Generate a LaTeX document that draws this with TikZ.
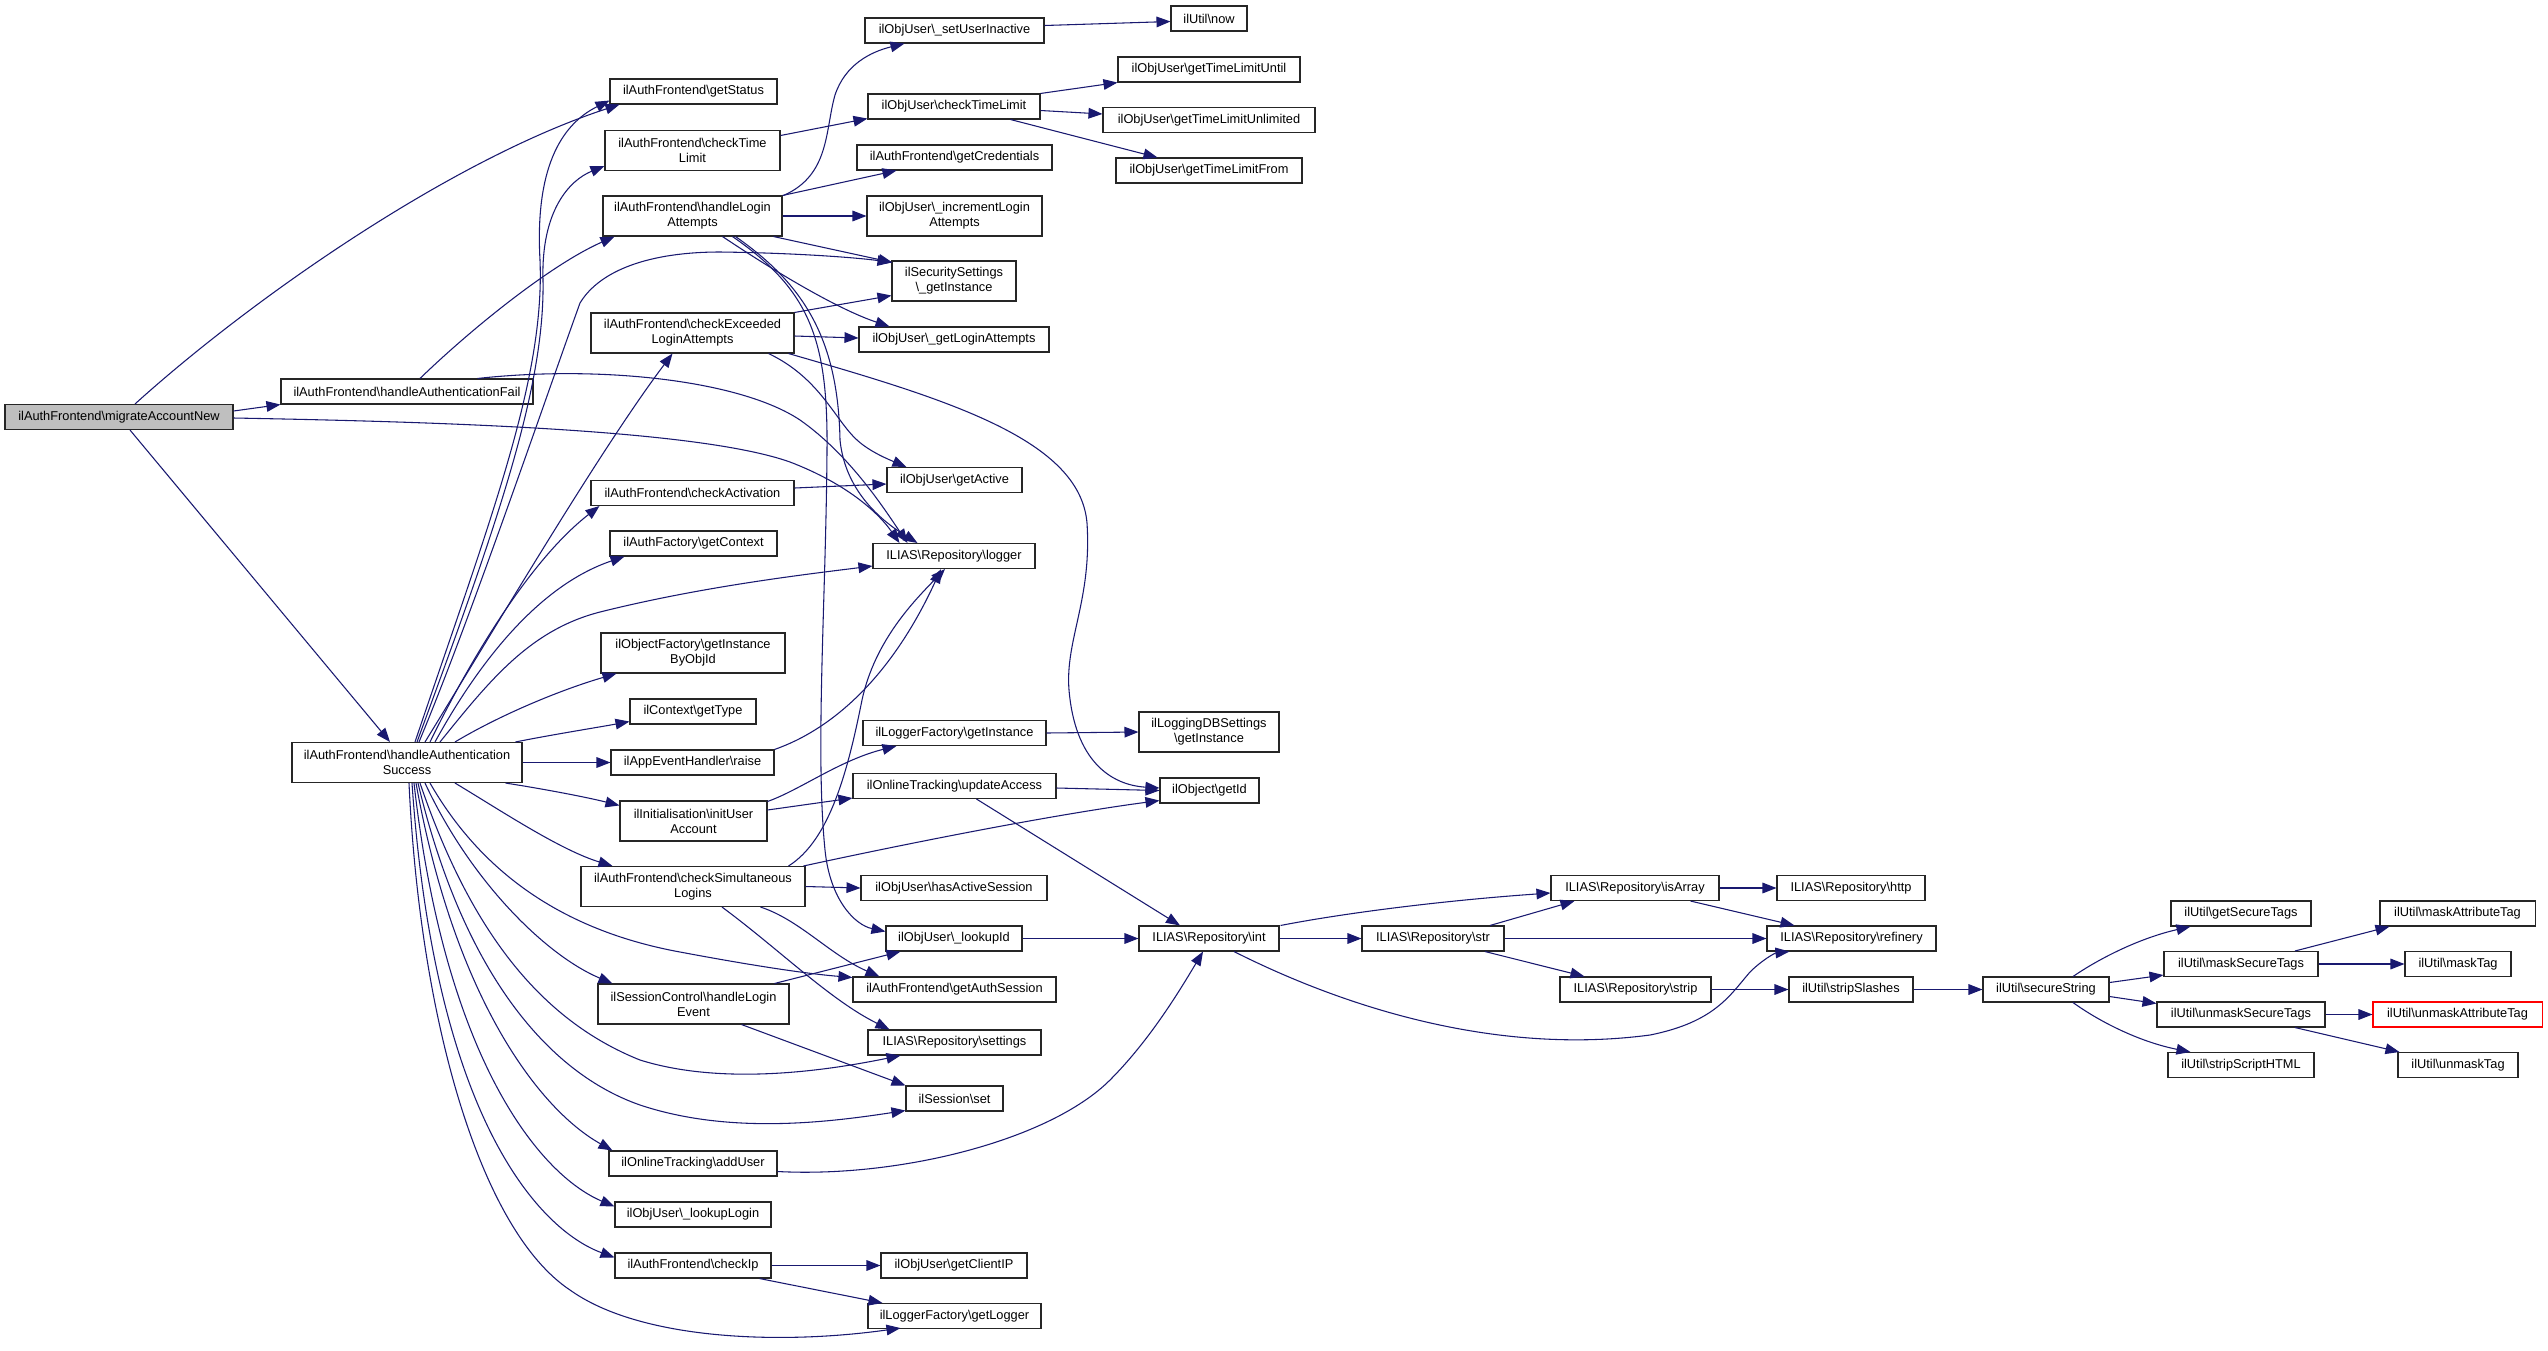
\documentclass[tikz,border=0pt]{standalone}
\usepackage{fontspec}
\setmainfont{Liberation Sans}
\usetikzlibrary{arrows.meta}
\definecolor{edgec}{HTML}{191970}
\definecolor{grayfill}{HTML}{BFBFBF}
\definecolor{boxc}{HTML}{262626}
\begin{document}
\begin{tikzpicture}[x=0.75pt,y=-0.75pt,
  fn/.style={draw=boxc, line width=0.8pt, inner sep=0pt, minimum height=18.75pt, align=center, font=\fontsize{9.6}{11.25}\selectfont},
  two/.style={minimum height=30pt},
  wd/.style={minimum width=#1*0.75pt},
  conn/.style={color=edgec, line width=0.8pt, -{Triangle[length=10.5pt,width=8pt]}}]
\fill[white] (0,0) rectangle (2548,1350);
\useasboundingbox (0,0) rectangle (2548,1350);
% column 0/1
\node[fn, wd=228, fill=grayfill] (mig) at (119,417) {ilAuthFrontend\textbackslash migrateAccountNew};
\node[fn, wd=252] (haf) at (407,391.5) {ilAuthFrontend\textbackslash handleAuthenticationFail};
\node[fn, two, wd=230] (has) at (407,762.5) {ilAuthFrontend\textbackslash handleAuthentication\\Success};
% column 2
\node[fn, wd=167] (gst) at (693.5,91.5) {ilAuthFrontend\textbackslash getStatus};
\node[fn, two, wd=175] (ctl) at (692.5,150.5) {ilAuthFrontend\textbackslash checkTime\\Limit};
\node[fn, two, wd=179] (hla) at (692.5,216) {ilAuthFrontend\textbackslash handleLogin\\Attempts};
\node[fn, two, wd=203] (cel) at (692.5,333) {ilAuthFrontend\textbackslash checkExceeded\\LoginAttempts};
\node[fn, wd=203] (cac) at (692.5,493) {ilAuthFrontend\textbackslash checkActivation};
\node[fn, wd=167] (gcx) at (693.5,543.5) {ilAuthFactory\textbackslash getContext};
\node[fn, two, wd=184] (gio) at (693,653) {ilObjectFactory\textbackslash getInstance\\ByObjId};
\node[fn, wd=126] (gty) at (693,711.5) {ilContext\textbackslash getType};
\node[fn, wd=163] (rai) at (692.5,762.5) {ilAppEventHandler\textbackslash raise};
\node[fn, two, wd=147] (iua) at (693.5,821) {ilInitialisation\textbackslash initUser\\Account};
\node[fn, two, wd=224] (csl) at (693,886.5) {ilAuthFrontend\textbackslash checkSimultaneous\\Logins};
\node[fn, two, wd=191] (hle) at (693.5,1004) {ilSessionControl\textbackslash handleLogin\\Event};
\node[fn, wd=168] (adu) at (693,1163.5) {ilOnlineTracking\textbackslash addUser};
\node[fn, wd=156] (llg) at (693,1214.5) {ilObjUser\textbackslash \_lookupLogin};
\node[fn, wd=156] (cip) at (693,1265.5) {ilAuthFrontend\textbackslash checkIp};
% column 3
\node[fn, wd=179] (sui) at (954.5,30.5) {ilObjUser\textbackslash \_setUserInactive};
\node[fn, wd=172] (octl) at (954,106.5) {ilObjUser\textbackslash checkTimeLimit};
\node[fn, wd=195] (gcr) at (954.5,157.5) {ilAuthFrontend\textbackslash getCredentials};
\node[fn, two, wd=175] (ila) at (954.5,216) {ilObjUser\textbackslash \_incrementLogin\\Attempts};
\node[fn, two, wd=124] (ssg) at (954,281) {ilSecuritySettings\\\textbackslash \_getInstance};
\node[fn, wd=190] (gla) at (954,339.5) {ilObjUser\textbackslash \_getLoginAttempts};
\node[fn, wd=135] (gac) at (954.5,480) {ilObjUser\textbackslash getActive};
\node[fn, wd=162] (lgr) at (954,556) {ILIAS\textbackslash Repository\textbackslash logger};
\node[fn, wd=183] (lfi) at (954.5,733) {ilLoggerFactory\textbackslash getInstance};
\node[fn, wd=203] (upa) at (954.5,786) {ilOnlineTracking\textbackslash updateAccess};
\node[fn, wd=186] (hac) at (954,888) {ilObjUser\textbackslash hasActiveSession};
\node[fn, wd=136] (lid) at (954,938.5) {ilObjUser\textbackslash \_lookupId};
\node[fn, wd=203] (gas) at (954.5,989.5) {ilAuthFrontend\textbackslash getAuthSession};
\node[fn, wd=173] (set) at (954.5,1042.5) {ILIAS\textbackslash Repository\textbackslash settings};
\node[fn, wd=97] (sse) at (954.5,1098.5) {ilSession\textbackslash set};
\node[fn, wd=146] (gci) at (954,1265.5) {ilObjUser\textbackslash getClientIP};
\node[fn, wd=173] (glo) at (954.5,1316) {ilLoggerFactory\textbackslash getLogger};
% column 4
\node[fn, wd=76] (now) at (1209,18.5) {ilUtil\textbackslash now};
\node[fn, wd=182] (tlu) at (1209,69.5) {ilObjUser\textbackslash getTimeLimitUntil};
\node[fn, wd=212] (tlun) at (1209,120) {ilObjUser\textbackslash getTimeLimitUnlimited};
\node[fn, wd=186] (tlf) at (1209,170.5) {ilObjUser\textbackslash getTimeLimitFrom};
\node[fn, two, wd=140] (ldb) at (1209,732) {ilLoggingDBSettings\\\textbackslash getInstance};
\node[fn, wd=99] (gid) at (1209.5,790.5) {ilObject\textbackslash getId};
\node[fn, wd=140] (int) at (1209,938.5) {ILIAS\textbackslash Repository\textbackslash int};
% right part
\node[fn, wd=142] (str) at (1433,938.5) {ILIAS\textbackslash Repository\textbackslash str};
\node[fn, wd=168] (isa) at (1635,888) {ILIAS\textbackslash Repository\textbackslash isArray};
\node[fn, wd=151] (stp) at (1635.5,989.5) {ILIAS\textbackslash Repository\textbackslash strip};
\node[fn, wd=148] (htp) at (1851,888) {ILIAS\textbackslash Repository\textbackslash http};
\node[fn, wd=169] (ref) at (1851.5,938.5) {ILIAS\textbackslash Repository\textbackslash refinery};
\node[fn, wd=124] (ssl) at (1851,989.5) {ilUtil\textbackslash stripSlashes};
\node[fn, wd=126] (sst) at (2046,989.5) {ilUtil\textbackslash secureString};
\node[fn, wd=140] (gsec) at (2241,913.5) {ilUtil\textbackslash getSecureTags};
\node[fn, wd=154] (mst) at (2241,964) {ilUtil\textbackslash maskSecureTags};
\node[fn, wd=168] (ust) at (2241,1014.5) {ilUtil\textbackslash unmaskSecureTags};
\node[fn, wd=146] (ssh) at (2241,1065) {ilUtil\textbackslash stripScriptHTML};
\node[fn, wd=155] (mat) at (2457.5,913.5) {ilUtil\textbackslash maskAttributeTag};
\node[fn, wd=106] (mtg) at (2458,964) {ilUtil\textbackslash maskTag};
\node[fn, wd=169, draw=red] (uat) at (2457.5,1014.5) {ilUtil\textbackslash unmaskAttributeTag};
\node[fn, wd=120] (utg) at (2458,1065) {ilUtil\textbackslash unmaskTag};

% ---- edges from migrateAccountNew
\draw[conn] ([shift={(16,0)}]mig.north) .. controls (250,300) and (450,160) .. ([shift={(10,0)}]gst.south west);
\draw[conn] ([shift={(0,-6)}]mig.east) -- (haf.south west);
\draw[conn] ([shift={(0,1)}]mig.east) .. controls (450,422) and (700,430) .. (790,462) .. controls (850,485) and (880,515) .. ([shift={(27,0)}]lgr.north west);
\draw[conn] ([shift={(11,0)}]mig.south) -- ([shift={(-17,0)}]has.north);
% ---- handleAuthenticationFail
\draw[conn] ([shift={(13,0)}]haf.north) .. controls (470,330) and (550,265) .. ([shift={(12,0)}]hla.south west);
\draw[conn] ([shift={(-56,0)}]haf.north east) .. controls (600,365) and (740,380) .. (800,420) .. controls (850,455) and (885,510) .. ([shift={(35,0)}]lgr.north west);
% ---- handleAuthenticationSuccess, top fan
\draw[conn] ([shift={(8,0)}]has.north) .. controls (490,520) and (545,380) .. (540,260) .. controls (535,170) and (560,125) .. ([shift={(0,-4)}]gst.south west);
\draw[conn] ([shift={(10,0)}]has.north) .. controls (495,530) and (545,390) .. (543,280) .. controls (541,210) and (570,180) .. ([shift={(0,-5)}]ctl.south west);
\draw[conn] ([shift={(12,0)}]has.north) .. controls (470,620) and (545,400) .. (580,303) .. controls (600,270) and (650,252) .. (720,252) .. controls (800,253) and (860,258) .. ([shift={(0,2)}]ssg.north west);
\draw[conn] ([shift={(18,0)}]has.north) .. controls (500,620) and (600,450) .. ([shift={(-20,0)}]cel.south);
\draw[conn] ([shift={(23,0)}]has.north) .. controls (470,660) and (530,560) .. ([shift={(9,0)}]cac.south west);
\draw[conn] ([shift={(28,0)}]has.north) .. controls (480,660) and (540,585) .. ([shift={(15,0)}]gcx.south west);
\draw[conn] ([shift={(33,0)}]has.north) .. controls (490,680) and (530,630) .. (600,612) .. controls (700,587) and (800,575) .. ([shift={(0,-3)}]lgr.south west);
\draw[conn] ([shift={(48,0)}]has.north) .. controls (500,715) and (560,690) .. ([shift={(16,0)}]gio.south west);
\draw[conn] ([shift={(-7,0)}]has.north east) .. controls (550,735) and (600,727) .. ([shift={(0,-3)}]gty.south west);
\draw[conn] (has.east) -- (rai.west);
% ---- bottom fan
\draw[conn] ([shift={(-17,0)}]has.south east) .. controls (550,790) and (590,798) .. ([shift={(0,5)}]iua.north west);
\draw[conn] ([shift={(48,0)}]has.south) .. controls (500,810) and (560,850) .. ([shift={(32,0)}]csl.north west);
\draw[conn] ([shift={(23,0)}]has.south) .. controls (480,870) and (560,930) .. (680,952) .. controls (760,967) and (810,974) .. ([shift={(0,1)}]gas.north west);
\draw[conn] ([shift={(18,0)}]has.south) .. controls (470,880) and (545,955) .. ([shift={(15,0)}]hle.north west);
\draw[conn] ([shift={(13,0)}]has.south) .. controls (470,930) and (540,1020) .. (640,1060) .. controls (720,1085) and (820,1072) .. ([shift={(33,0)}]set.south west);
\draw[conn] ([shift={(11,0)}]has.south) .. controls (460,960) and (540,1070) .. (640,1105) .. controls (730,1135) and (830,1122) .. ([shift={(0,-1)}]sse.south west);
\draw[conn] ([shift={(9,0)}]has.south) .. controls (455,1000) and (540,1110) .. ([shift={(4,0)}]adu.north west);
\draw[conn] ([shift={(7,0)}]has.south) .. controls (445,1060) and (540,1175) .. ([shift={(0,5)}]llg.north west);
\draw[conn] ([shift={(5,0)}]has.south) .. controls (435,1120) and (540,1230) .. ([shift={(0,5)}]cip.north west);
\draw[conn] ([shift={(2,0)}]has.south) .. controls (420,1020) and (480,1230) .. (570,1290) .. controls (640,1340) and (780,1345) .. ([shift={(33,-1)}]glo.south west);
% ---- handleLoginAttempts
\draw[conn] ([shift={(1,0)}]hla.north east) .. controls (830,175) and (825,130) .. (835,95) .. controls (845,65) and (870,52) .. ([shift={(40,0)}]sui.south west);
\draw[conn] (hla.north east) -- ([shift={(40,0)}]gcr.south west);
\draw[conn] (hla.east) -- (ila.west);
\draw[conn] ([shift={(-9,0)}]hla.south east) -- ([shift={(1,2)}]ssg.north west);
\draw[conn] ([shift={(30,0)}]hla.south) .. controls (780,275) and (840,310) .. ([shift={(31,0)}]gla.north west);
\draw[conn] ([shift={(40,0)}]hla.south) .. controls (810,290) and (828,340) .. (827,450) .. controls (826,600) and (815,750) .. (825,850) .. controls (830,900) and (855,925) .. ([shift={(0,6)}]lid.north west);
\draw[conn] ([shift={(43,0)}]hla.south) .. controls (805,285) and (838,340) .. (840,440) .. controls (845,490) and (880,520) .. ([shift={(45,0)}]lgr.north west);
% ---- checkTimeLimit
\draw[conn] ([shift={(0,-15)}]ctl.east) -- ([shift={(0,-1)}]octl.south west);
\draw[conn] (octl.north east) -- (tlu.south west);
\draw[conn] ([shift={(0,4)}]octl.east) -- ([shift={(0,-6)}]tlun.west);
\draw[conn] ([shift={(-30,0)}]octl.south east) -- ([shift={(42,0)}]tlf.north west);
\draw[conn] ([shift={(0,-5)}]sui.east) -- ([shift={(0,3)}]now.west);
% ---- checkExceededLoginAttempts
\draw[conn] (cel.north east) -- ([shift={(0,-6)}]ssg.south west);
\draw[conn] ([shift={(0,3)}]cel.east) -- ([shift={(0,-1.5)}]gla.west);
\draw[conn] ([shift={(-26,0)}]cel.south east) .. controls (820,378) and (835,420) .. (857,440) .. controls (870,452) and (890,460) .. ([shift={(20,0)}]gac.north west);
\draw[conn] ([shift={(-6,0)}]cel.south east) .. controls (950,400) and (1080,440) .. (1087,523) .. controls (1092,600) and (1065,640) .. (1069,690) .. controls (1075,760) and (1110,785) .. ([shift={(0,-2.5)}]gid.west);
\draw[conn] ([shift={(0,-5)}]cac.east) -- ([shift={(0,4)}]gac.west);
% ---- middle column
\draw[conn] (rai.north east) .. controls (830,730) and (890,680) .. ([shift={(-13,0)}]lgr.south);
\draw[conn] ([shift={(-17,0)}]csl.north east) .. controls (830,840) and (848,770) .. (862,700) .. controls (875,640) and (915,600) .. ([shift={(-9,0)}]lgr.south);
\draw[conn] ([shift={(0,1)}]iua.north east) .. controls (800,790) and (840,760) .. ([shift={(34,0)}]lfi.south west);
\draw[conn] ([shift={(0,-11)}]iua.east) -- ([shift={(0,-1)}]upa.south west);
\draw[conn] (lfi.east) -- (ldb.west);
\draw[conn] ([shift={(0,2)}]upa.east) -- (gid.west);
\draw[conn] ([shift={(22,0)}]upa.south) -- ([shift={(-29,0)}]int.north);
\draw[conn] ([shift={(-2,0)}]csl.north east) .. controls (900,845) and (1050,815) .. ([shift={(0,-3)}]gid.south west);
\draw[conn] (csl.east) -- (hac.west);
\draw[conn] ([shift={(-45,0)}]csl.south east) .. controls (800,920) and (830,955) .. ([shift={(27,0)}]gas.north west);
\draw[conn] ([shift={(29,0)}]csl.south) .. controls (780,950) and (830,1000) .. ([shift={(22,0)}]set.north west);
\draw[conn] ([shift={(-15,0)}]hle.north east) -- ([shift={(15,0)}]lid.south west);
\draw[conn] ([shift={(-48,0)}]hle.south east) -- (sse.north west);
\draw[conn] ([shift={(0,8)}]adu.east) .. controls (900,1178) and (1050,1140) .. (1110,1080) .. controls (1150,1040) and (1180,990) .. ([shift={(-6,0)}]int.south);
\draw[conn] (cip.east) -- (gci.west);
\draw[conn] ([shift={(-12,0)}]cip.south east) -- ([shift={(15,0)}]glo.north west);
\draw[conn] (lid.east) -- (int.west);
% ---- right part
\draw[conn] (int.east) -- (str.west);
\draw[conn] ([shift={(1,0)}]int.north east) .. controls (1350,912) and (1450,900) .. ([shift={(0,5)}]isa.west);
\draw[conn] ([shift={(25,0)}]int.south) .. controls (1350,1010) and (1500,1055) .. (1650,1035) .. controls (1715,1022) and (1730,995) .. (1750,972) .. controls (1762,960) and (1775,953) .. ([shift={(23,0)}]ref.south west);
\draw[conn] ([shift={(57,0)}]str.north) -- ([shift={(24,0)}]isa.south west);
\draw[conn] (str.east) -- (ref.west);
\draw[conn] ([shift={(52,0)}]str.south) -- ([shift={(25,0)}]stp.north west);
\draw[conn] (isa.east) -- (htp.west);
\draw[conn] ([shift={(-29,0)}]isa.south east) -- ([shift={(28,0)}]ref.north west);
\draw[conn] (stp.east) -- (ssl.west);
\draw[conn] (ssl.east) -- (sst.west);
\draw[conn] ([shift={(27,0)}]sst.north) .. controls (2100,958) and (2140,938) .. ([shift={(20,0)}]gsec.south west);
\draw[conn] ([shift={(0,-7)}]sst.east) -- ([shift={(0,-2)}]mst.south west);
\draw[conn] ([shift={(0,7)}]sst.east) -- ([shift={(0,2)}]ust.north west);
\draw[conn] ([shift={(27,0)}]sst.south) .. controls (2100,1022) and (2140,1042) .. ([shift={(23,0)}]ssh.north west);
\draw[conn] ([shift={(54,0)}]mst.north) -- ([shift={(10,0)}]mat.south west);
\draw[conn] (mst.east) -- (mtg.west);
\draw[conn] (ust.east) -- (uat.west);
\draw[conn] ([shift={(54,0)}]ust.south) -- ([shift={(2,0)}]utg.north west);
\end{tikzpicture}
\end{document}
